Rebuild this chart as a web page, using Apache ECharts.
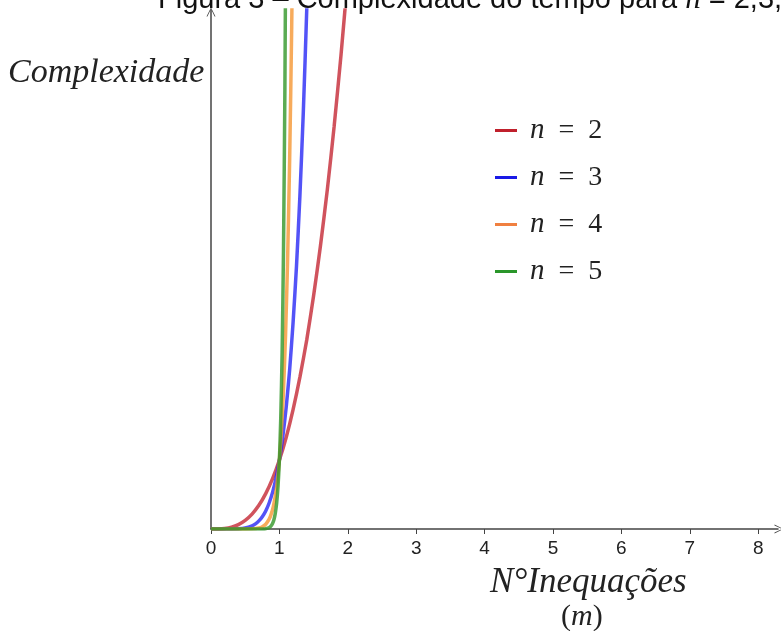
<!DOCTYPE html>
<html>
<head>
<meta charset="utf-8">
<script src="https://cdn.jsdelivr.net/npm/echarts@6/dist/echarts.min.js"></script>
<style>
  html, body { margin: 0; padding: 0; background: #fff; }
  #chart { width: 781px; height: 631px; }
</style>
</head>
<body>
<div id="chart"></div>
<script>
const xTicks = [0, 1, 2, 3, 4, 5, 6, 7, 8];

// values (unit = height of the crossing point at m = 1)
const mRed = [0, 0.1, 0.2, 0.3, 0.4, 0.5, 0.6, 0.7, 0.8, 0.9, 1, 1.1, 1.2, 1.3, 1.4, 1.5, 1.6, 1.7, 1.8, 1.9, 2.0];
const yRed = [0, 0.001, 0.008, 0.027, 0.064, 0.125, 0.216, 0.343, 0.512, 0.729, 1, 1.33, 1.73, 2.2, 2.74, 3.38, 4.1, 4.91, 5.83, 6.86, 8.0];

const mBlue = [0, 0.2, 0.3, 0.4, 0.5, 0.6, 0.65, 0.7, 0.75, 0.8, 0.85, 0.9, 0.95, 1, 1.05, 1.1, 1.15, 1.2, 1.25, 1.3, 1.35, 1.4, 1.45];
const yBlue = [0, 0.0001, 0.0007, 0.004, 0.016, 0.047, 0.075, 0.118, 0.178, 0.262, 0.377, 0.531, 0.735, 1, 1.34, 1.77, 2.31, 2.99, 3.81, 4.83, 6.05, 7.53, 9.3];

const mOrange = [0, 0.5, 0.6, 0.7, 0.75, 0.8, 0.85, 0.88, 0.91, 0.94, 0.97, 1, 1.03, 1.06, 1.09, 1.12, 1.15, 1.18, 1.21, 1.24];
const yOrange = [0, 0.0002, 0.002, 0.014, 0.032, 0.069, 0.142, 0.216, 0.322, 0.476, 0.694, 1, 1.43, 2.01, 2.81, 3.9, 5.35, 7.28, 9.87, 13.2];

const mGreen = [0, 0.7, 0.75, 0.8, 0.83, 0.86, 0.88, 0.9, 0.92, 0.94, 0.96, 0.98, 1, 1.02, 1.04, 1.06, 1.08, 1.1, 1.12];
const yGreen = [0, 0.0002, 0.001, 0.0047, 0.0115, 0.027, 0.047, 0.08, 0.135, 0.226, 0.375, 0.616, 1, 1.61, 2.56, 4.05, 6.34, 9.85, 15.2];

const seriesNames = ['n = 2', 'n = 3', 'n = 4', 'n = 5'];
const lineColors = ['rgba(196,40,52,0.8)', 'rgba(40,40,245,0.8)', 'rgba(245,150,50,0.8)', 'rgba(50,150,40,0.8)'];
const legendColors = ['#c0202c', '#1a1ae6', '#f08040', '#2a962a'];

function pairs(xs, ys) {
  return xs.map(function (x, i) { return [x, ys[i]]; });
}

const chevron = 'path://M0,10 L5,0 L10,10 L9,10 L5,1.6 L1,10 Z';
const axisColor = '#444';
const mathFont = 'Liberation Serif';

var myChart = echarts.init(document.getElementById('chart'));

const allData = [pairs(mRed, yRed), pairs(mBlue, yBlue), pairs(mOrange, yOrange), pairs(mGreen, yGreen)];

var option = {
  animation: false,
  backgroundColor: '#fff',
  grid: { left: 211, right: 3, top: 10, bottom: 102 },
  xAxis: {
    type: 'value',
    min: 0,
    max: 8.29,
    interval: 1,
    splitLine: { show: false },
    axisLine: {
      lineStyle: { color: axisColor, width: 1.5 },
      symbol: ['none', chevron],
      symbolSize: [16, 9],
      symbolOffset: [0, 1]
    },
    axisTick: { show: true, customValues: xTicks, length: 5, inside: false, lineStyle: { color: axisColor } },
    axisLabel: {
      customValues: xTicks,
      color: '#222',
      fontFamily: 'Liberation Sans',
      fontSize: 19,
      margin: 10
    }
  },
  yAxis: {
    type: 'value',
    min: 0,
    max: 7.52,
    splitLine: { show: false },
    axisTick: { show: false },
    axisLabel: { show: false },
    axisLine: {
      lineStyle: { color: axisColor, width: 1.5 },
      symbol: ['none', chevron],
      symbolSize: [16, 9],
      symbolOffset: [0, -2]
    }
  },
  legend: {
    orient: 'vertical',
    left: 490,
    top: 111,
    itemWidth: 22,
    itemHeight: 3,
    itemGap: 18,
    icon: 'rect',
    data: seriesNames.map(function (n, i) { return { name: n, itemStyle: { color: legendColors[i] } }; }),
    formatter: function (name) {
      return '{i|n}{t|' + name.slice(1).replace(/ /g, '  ') + '}';
    },
    textStyle: {
      padding: [0, 0, 0, 8],
      rich: {
        i: { fontFamily: mathFont, fontStyle: 'italic', fontSize: 29, color: '#222', lineHeight: 30 },
        t: { fontFamily: mathFont, fontSize: 28, color: '#222', lineHeight: 30 }
      }
    }
  },
  series: seriesNames.map(function (n, i) {
    return {
      name: n,
      type: 'line',
      data: allData[i],
      showSymbol: false,
      smooth: 0.2,
      clip: true,
      color: lineColors[i],
      lineStyle: { width: 3.5, color: lineColors[i] }
    };
  }),
  graphic: [
    {
      type: 'text',
      left: 158,
      top: -16,
      style: {
        text: 'Figura 3 – Complexidade do tempo para {i|n} = 2,3,4,5',
        fontFamily: 'Liberation Sans',
        fontSize: 29,
        fill: '#111',
        rich: { i: { fontFamily: mathFont, fontStyle: 'italic', fontSize: 31, fill: '#111' } }
      }
    },
    {
      type: 'text',
      left: 8,
      top: 56,
      style: { text: 'Complexidade', fontFamily: mathFont, fontStyle: 'italic', fontSize: 34, fill: '#222' }
    },
    {
      type: 'text',
      left: 490,
      top: 565,
      style: { text: 'N°Inequações', fontFamily: mathFont, fontStyle: 'italic', fontSize: 35, fill: '#222' }
    },
    {
      type: 'text',
      left: 561,
      top: 602,
      style: { text: '({i|m})', fontFamily: mathFont, fontSize: 30, fill: '#222',
        rich: { i: { fontFamily: mathFont, fontStyle: 'italic', fontSize: 30, fill: '#222' } } }
    }
  ]
};

option && myChart.setOption(option);
</script>
</body>
</html>
